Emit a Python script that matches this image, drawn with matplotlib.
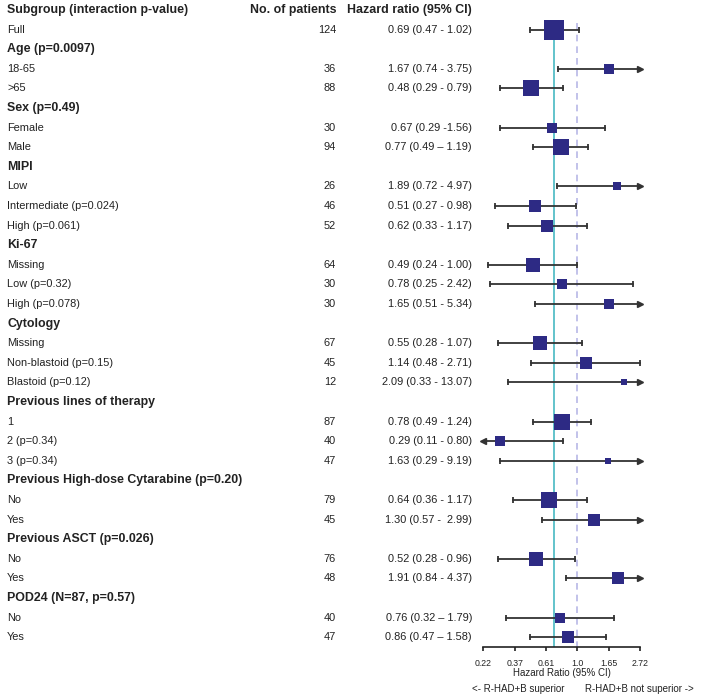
import numpy as np
import matplotlib
matplotlib.use('Agg')
import matplotlib.pyplot as plt
import matplotlib.transforms as mtransforms

plt.rcParams['font.family'] = ['Liberation Sans', 'DejaVu Sans']

labels = ["Full", "Age (p=0.0097)", "18-65", ">65", "Sex (p=0.49)", "Female", "Male",
          "MIPI", "Low", "Intermediate (p=0.024)", "High (p=0.061)",
          "Ki-67", "Missing", "Low (p=0.32)", "High (p=0.078)",
          "Cytology", "Missing", "Non-blastoid (p=0.15)", "Blastoid (p=0.12)",
          "Previous lines of therapy", "1", "2 (p=0.34)", "3 (p=0.34)",
          "Previous High-dose Cytarabine (p=0.20)", "No", "Yes",
          "Previous ASCT (p=0.026)", "No", "Yes",
          "POD24 (N=87, p=0.57)", "No", "Yes"]
n_patients = [124, None, 36, 88, None, 30, 94, None, 26, 46, 52, None, 64, 30, 30,
              None, 67, 45, 12, None, 87, 40, 47, None, 79, 45, None, 76, 48, None, 40, 47]
hr = [0.69, None, 1.67, 0.48, None, 0.67, 0.77, None, 1.89, 0.51, 0.62, None, 0.49, 0.78, 1.65,
      None, 0.55, 1.14, 2.09, None, 0.78, 0.29, 1.63, None, 0.64, 1.30, None, 0.52, 1.91, None, 0.76, 0.86]
ci_low = [0.47, None, 0.74, 0.29, None, 0.29, 0.49, None, 0.72, 0.27, 0.33, None, 0.24, 0.25, 0.51,
          None, 0.28, 0.48, 0.33, None, 0.49, 0.11, 0.29, None, 0.36, 0.57, None, 0.28, 0.84, None, 0.32, 0.47]
ci_high = [1.02, None, 3.75, 0.79, None, 1.56, 1.19, None, 4.97, 0.98, 1.17, None, 1.00, 2.42, 5.34,
           None, 1.07, 2.71, 13.07, None, 1.24, 0.80, 9.19, None, 1.17, 2.99, None, 0.96, 4.37, None, 1.79, 1.58]
hr_text = ["0.69 (0.47 - 1.02)", "", "1.67 (0.74 - 3.75)", "0.48 (0.29 - 0.79)", "",
           "0.67 (0.29 -1.56)", "0.77 (0.49 \u2013 1.19)", "",
           "1.89 (0.72 - 4.97)", "0.51 (0.27 - 0.98)", "0.62 (0.33 - 1.17)", "",
           "0.49 (0.24 - 1.00)", "0.78 (0.25 - 2.42)", "1.65 (0.51 - 5.34)", "",
           "0.55 (0.28 - 1.07)", "1.14 (0.48 - 2.71)", "2.09 (0.33 - 13.07)", "",
           "0.78 (0.49 - 1.24)", "0.29 (0.11 - 0.80)", "1.63 (0.29 - 9.19)", "",
           "0.64 (0.36 - 1.17)", "1.30 (0.57 -  2.99)", "",
           "0.52 (0.28 - 0.96)", "1.91 (0.84 - 4.37)", "",
           "0.76 (0.32 \u2013 1.79)", "0.86 (0.47 \u2013 1.58)"]
# box weights as drawn (mostly the patient count)
box_weight = [124, None, 36, 88, None, 30, 94, None, 26, 46, 52, None, 64, 30, 30,
              None, 67, 45, 12, None, 87, 34, 15, None, 79, 45, None, 76, 48, None, 40, 47]
overall_hr = 0.69
tick_vals = np.exp([-1.5, -1.0, -0.5, 0.0, 0.5, 1.0])
tick_labels = ["0.22", "0.37", "0.61", "1.0", "1.65", "2.72"]

W, H = 706, 697
fig = plt.figure(figsize=(W / 100, H / 100), dpi=100)

# forest panel, positioned in pixels
ax_l, ax_r, ax_bot = 483.3, 640.0, 647.0
ax = fig.add_axes([ax_l / W, (H - ax_bot) / H, (ax_r - ax_l) / W, ax_bot / H])
row0, step = 10.0, 19.6
ax.set_ylim((ax_bot - row0) / step, -row0 / step)
ax.set_xscale('log')
xmin, xmax = tick_vals[0], tick_vals[-1]
ax.set_xlim(xmin, xmax)
for s in ['top', 'right', 'left']:
    ax.spines[s].set_visible(False)
ax.spines['bottom'].set_linewidth(1.2)
ax.spines['bottom'].set_color('#222222')
ax.set_yticks([])
ax.xaxis.set_minor_locator(matplotlib.ticker.NullLocator())
ax.set_xticks(tick_vals)
ax.set_xticklabels(tick_labels, fontsize=6.3, color='#222222')
ax.tick_params(axis='x', length=3, width=1.2, color='#222222', pad=6)
ax.patch.set_alpha(0)

line_top = 0.66
ax.plot([overall_hr, overall_hr], [line_top, 40], color='#62C3CB', lw=1.4, zorder=1)
ax.plot([1, 1], [line_top, 40], color='#B8B8E6', lw=1.2, ls=(0, (4, 3)), zorder=1)

for i, lab in enumerate(labels):
    y = i + 1
    if hr[i] is None:
        continue
    lo = max(ci_low[i], xmin)
    hi_ = min(ci_high[i], xmax)
    ax.plot([lo, hi_], [y, y], color='#333333', lw=1.3, zorder=2, clip_on=False)
    if ci_low[i] < xmin:
        ax.plot([xmin], [y], marker='<', ms=4, color='#333333', zorder=2, clip_on=False)
    else:
        ax.plot([lo], [y], marker='|', ms=5, mew=1.3, color='#333333', zorder=2)
    if ci_high[i] > xmax:
        ax.plot([xmax], [y], marker='>', ms=4, color='#333333', zorder=2, clip_on=False)
    else:
        ax.plot([hi_], [y], marker='|', ms=5, mew=1.3, color='#333333', zorder=2)
    ax.scatter([hr[i]], [y], marker='s', s=1.52 * box_weight[i], color='#2D2A84',
               linewidths=0, zorder=3, clip_on=False)

# text columns
trans = mtransforms.blended_transform_factory(fig.transFigure, ax.transData)
txt_col = '#222222'
x_lab, x_n, x_hr = 7 / W, 336 / W, 472 / W
fs_row, fs_head = 7.9, 8.9
ax.text(x_lab, 0, "Subgroup (interaction p-value)", transform=trans, ha='left', va='center',
        fontsize=fs_head, fontweight='bold', color=txt_col)
ax.text(x_n, 0, "No. of patients", transform=trans, ha='right', va='center',
        fontsize=fs_head, fontweight='bold', color=txt_col)
ax.text(x_hr, 0, "Hazard ratio (95% CI)", transform=trans, ha='right', va='center',
        fontsize=fs_head, fontweight='bold', color=txt_col)
for i, lab in enumerate(labels):
    y = i + 1
    if hr[i] is None:
        ax.text(x_lab, y, lab, transform=trans, ha='left', va='center', fontsize=fs_head,
                fontweight='bold', color=txt_col)
    else:
        ax.text(x_lab, y, lab, transform=trans, ha='left', va='center', fontsize=fs_row, color=txt_col)
        ax.text(x_n, y, str(n_patients[i]), transform=trans, ha='right', va='center',
                fontsize=fs_row, color=txt_col)
        ax.text(x_hr, y, hr_text[i], transform=trans, ha='right', va='center',
                fontsize=fs_row, color=txt_col)

fig.text(561.5 / W, 1 - 673 / H, "Hazard Ratio (95% CI)", ha='center', va='center',
         fontsize=7, color=txt_col)
fig.text(564.5 / W, 1 - 688.5 / H, "<- R-HAD+B superior", ha='right', va='center',
         fontsize=7, color=txt_col)
fig.text(585 / W, 1 - 688.5 / H, "R-HAD+B not superior ->", ha='left', va='center',
         fontsize=7, color=txt_col)

fig.savefig('out.png', dpi=100)
